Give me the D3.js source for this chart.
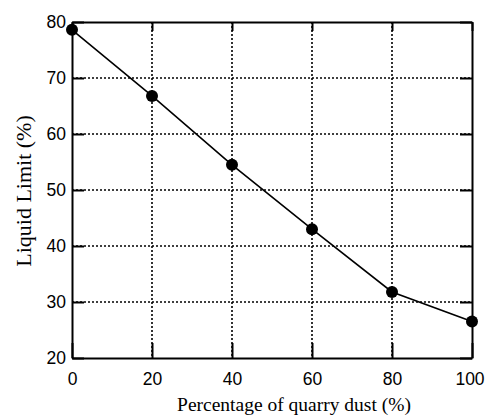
<!DOCTYPE html>
<html>
<head>
<meta charset="utf-8">
<script src="https://cdn.jsdelivr.net/npm/d3@7"></script>
<style>
  html, body { margin: 0; padding: 0; background: #fff; }
  svg { display: block; }
</style>
</head>
<body>
<svg id="chart" width="485" height="418"></svg>
<script>
// Liquid limit of the soil mix against quarry dust content
const dustPercent = [0, 20, 40, 60, 80, 100];
const liquidLimit = [78.6, 66.8, 54.5, 43.0, 31.8, 26.5];
const xTicks = [0, 20, 40, 60, 80, 100];
const yTicks = [20, 30, 40, 50, 60, 70, 80];

(function () {
const svg = d3.select("#chart");
const plotLeft = 72, plotRight = 472, plotTop = 22, plotBottom = 358;

const x = d3.scaleLinear().domain([0, 100]).range([plotLeft, plotRight]);
const y = d3.scaleLinear().domain([20, 80]).range([plotBottom, plotTop]);

// dotted grid
const grid = svg.append("g")
  .attr("stroke", "#000")
  .attr("stroke-width", 1.6)
  .attr("stroke-dasharray", "2,2");
grid.selectAll("line.gx")
  .data(xTicks.slice(1, -1))
  .join("line")
  .attr("class", "gx")
  .attr("x1", d => x(d)).attr("x2", d => x(d))
  .attr("y1", plotTop).attr("y2", plotBottom);
grid.selectAll("line.gy")
  .data(yTicks.slice(1, -1))
  .join("line")
  .attr("class", "gy")
  .attr("y1", d => y(d)).attr("y2", d => y(d))
  .attr("x1", plotLeft).attr("x2", plotRight);

// axes with inward ticks on all four sides
const tickFont = "'Liberation Sans', Arial, sans-serif";
const axisBottom = d3.axisBottom(x).tickValues(xTicks).tickSizeInner(-15).tickSizeOuter(0).tickPadding(15);
const axisLeft = d3.axisLeft(y).tickValues(yTicks).tickSizeInner(-12).tickSizeOuter(0).tickPadding(6);
const axisTop = d3.axisTop(x).tickValues(xTicks).tickSizeInner(-9).tickSizeOuter(0).tickFormat("");
const axisRight = d3.axisRight(y).tickValues(yTicks).tickSizeInner(-12).tickSizeOuter(0).tickFormat("");

function styleAxis(g) {
  g.select(".domain").attr("stroke", "#000").attr("stroke-width", 2);
  g.selectAll(".tick line").attr("stroke", "#000").attr("stroke-width", 2);
  g.selectAll(".tick text")
    .attr("fill", "#000")
    .style("font-family", tickFont)
    .style("font-size", "17.5px");
}

const gx = svg.append("g").attr("transform", `translate(0,${plotBottom})`).call(axisBottom).call(styleAxis);
// keep the last label inside the canvas edge
gx.selectAll(".tick text").filter(d => d === 100).attr("dx", -2.5);
svg.append("g").attr("transform", `translate(${plotLeft},0)`).call(axisLeft).call(styleAxis);
svg.append("g").attr("transform", `translate(0,${plotTop})`).call(axisTop).call(styleAxis);
svg.append("g").attr("transform", `translate(${plotRight},0)`).call(axisRight).call(styleAxis);

// data line and markers
const line = d3.line().x((d, i) => x(dustPercent[i])).y(d => y(d));
svg.append("path")
  .datum(liquidLimit)
  .attr("d", line)
  .attr("fill", "none")
  .attr("stroke", "#000")
  .attr("stroke-width", 1.6);

svg.append("g").selectAll("circle")
  .data(liquidLimit)
  .join("circle")
  .attr("cx", (d, i) => x(dustPercent[i]))
  .attr("cy", d => y(d))
  .attr("r", 6)
  .attr("fill", "#000");

// axis titles
const titleFont = "'Liberation Serif', 'Times New Roman', serif";
svg.append("text")
  .attr("x", 294).attr("y", 411)
  .attr("text-anchor", "middle")
  .style("font-family", titleFont)
  .style("font-size", "19.5px")
  .text("Percentage of quarry dust (%)");

svg.append("text")
  .attr("transform", `translate(31,${(plotTop + plotBottom) / 2 + 1}) rotate(-90)`)
  .attr("text-anchor", "middle")
  .style("font-family", titleFont)
  .style("font-size", "22px")
  .text("Liquid Limit (%)");
})();
</script>
</body>
</html>
